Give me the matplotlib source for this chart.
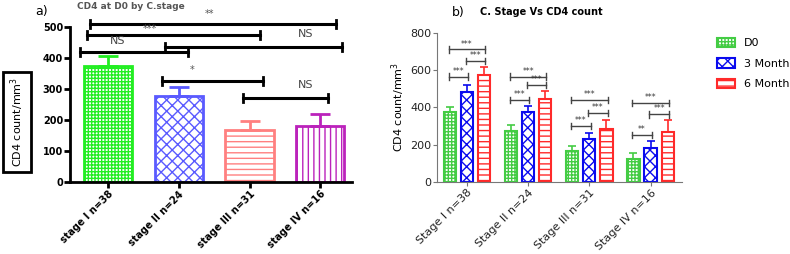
import numpy as np
import matplotlib
matplotlib.use("Agg")
from matplotlib import pyplot as plt

# panel a) CD4 at D0 by clinical stage
stages_a = ["stage I n=38", "stage II n=24", "stage III n=31", "stage IV n=16"]
cd4_d0 = [375, 277, 167, 182]
err_d0 = [30, 31, 30, 38]
colors_a = ["#22ee22", "#5a5aff", "#ff8080", "#bb22bb"]
hatches_a = ["+++++", "xxx", "---", "|||"]
# (x1, x2, y, label, label_x, label_y)
sig_a = [
    (-0.25, 3.22, 510, "**", 1.44, 525),
    (-0.30, 2.15, 474, "***", 0.59, 478),
    (-0.40, 1.13, 419, "NS", 0.13, 440),
    (0.81, 3.31, 435, "NS", 2.79, 460),
    (0.76, 2.19, 326, "*", 1.19, 345),
    (1.91, 3.11, 271, "NS", 2.79, 296),
]

# panel b) CD4 over follow-up
stages_b = ["Stage I n=38", "Stage II n=24", "Stage III n=31", "Stage IV n=16"]
visits = ["D0", "3 Month", "6 Month"]
cd4_b = [[375, 272, 165, 122],
         [485, 375, 228, 183],
         [575, 445, 287, 270]]
err_b = [[30, 33, 30, 33],
         [35, 35, 37, 35],
         [40, 42, 43, 60]]
colors_b = ["#44cc44", "#0a0aee", "#ff2a2a"]
hatches_b = ["+++++", "xxx", "---"]
# (group, bar1, bar2, y, label)
sig_b = [
    (0, 0, 2, 711, "***"), (0, 1, 2, 649, "***"), (0, 0, 1, 565, "***"),
    (1, 0, 2, 565, "***"), (1, 1, 2, 520, "***"), (1, 0, 1, 440, "***"),
    (2, 0, 2, 440, "***"), (2, 1, 2, 370, "***"), (2, 0, 1, 300, "***"),
    (3, 0, 2, 424, "***"), (3, 1, 2, 364, "***"), (3, 0, 1, 252, "**"),
]

plt.rcParams['hatch.linewidth'] = 1.0
fig = plt.figure(figsize=(7.9, 2.54), dpi=100)

# ---------------- panel a ----------------
ax1 = fig.add_axes([0.0886, 0.2835, 0.357, 0.61])
x = np.arange(len(stages_a))
for i in range(len(stages_a)):
    ax1.bar(x[i], cd4_d0[i], width=0.68, facecolor="white", edgecolor=colors_a[i],
            hatch=hatches_a[i], linewidth=2)
    ax1.errorbar(x[i], cd4_d0[i], yerr=[[0], [err_d0[i]]], color=colors_a[i],
                 capsize=7, capthick=2, elinewidth=2)
for x1, x2, y, lab, lx, ly in sig_a:
    ax1.plot([x1, x2], [y, y], color="black", lw=2.2, clip_on=False)
    ax1.plot([x1, x1], [y - 12, y + 12], color="black", lw=2, clip_on=False)
    ax1.plot([x2, x2], [y - 12, y + 12], color="black", lw=2, clip_on=False)
    ax1.text(lx, ly, lab, ha="center", va="bottom", fontsize=8 if lab == "NS" else 7,
             color="#444444" if lab == "NS" else "#555555", clip_on=False)
ax1.set_xlim(-0.54, 3.45)
ax1.set_ylim(0, 500)
ax1.set_yticks([0, 100, 200, 300, 400, 500])
ax1.set_xticks(x)
ax1.set_xticklabels(stages_a, rotation=45, ha="right", rotation_mode="anchor",
                    fontsize=7, fontweight="bold")
for lbl in ax1.get_yticklabels():
    lbl.set_fontweight("bold")
    lbl.set_fontsize(7)
ax1.spines["top"].set_visible(False)
ax1.spines["right"].set_visible(False)
ax1.spines["left"].set_linewidth(2)
ax1.spines["bottom"].set_linewidth(2)
ax1.tick_params(width=2, length=4, pad=1)

fig.text(0.0215, 0.52, "CD4 count/mm$^3$", rotation=90, ha="center", va="center",
         fontsize=8, bbox=dict(boxstyle="square,pad=0.45", fc="white", ec="black", lw=2))
fig.text(0.045, 0.955, "a)", fontsize=9, ha="left", va="center")
fig.text(0.097, 0.975, "CD4 at D0 by C.stage", fontsize=6.5, fontweight="bold",
         color="#555555", ha="left", va="center")

# ---------------- panel b ----------------
ax2 = fig.add_axes([0.553, 0.2835, 0.310, 0.587])
xb = np.arange(len(stages_b))
offsets = [-0.28, 0.0, 0.28]
for j in range(len(visits)):
    ax2.bar(xb + offsets[j], cd4_b[j], width=0.2, facecolor="white",
            edgecolor=colors_b[j], hatch=hatches_b[j], linewidth=1.5, label=visits[j])
    ax2.errorbar(xb + offsets[j], cd4_b[j], yerr=[[0] * 4, err_b[j]], fmt="none",
                 ecolor=colors_b[j], capsize=3, capthick=1.2, elinewidth=1.2)
for g, b1, b2, y, lab in sig_b:
    xa = g + offsets[b1] - 0.02
    xc = g + offsets[b2] + 0.02
    ax2.plot([xa, xc], [y, y], color="#444444", lw=1)
    ax2.plot([xa, xa], [y - 18, y + 18], color="#444444", lw=1)
    ax2.plot([xc, xc], [y - 18, y + 18], color="#444444", lw=1)
    ax2.text((xa + xc) / 2, y + 4, lab, ha="center", va="bottom", fontsize=5.5, color="#333333")
ax2.set_xlim(-0.49, 3.51)
ax2.set_ylim(0, 800)
ax2.set_yticks([0, 200, 400, 600, 800])
ax2.set_xticks(xb)
ax2.set_xticklabels(stages_b, rotation=45, ha="right", rotation_mode="anchor", fontsize=8)
ax2.tick_params(labelsize=8, color="#777777", labelcolor="#222222", length=3, pad=1)
ax2.spines["top"].set_visible(False)
ax2.spines["right"].set_visible(False)
ax2.spines["left"].set_color("#777777")
ax2.spines["bottom"].set_color("#777777")
ax2.set_ylabel("CD4 count/mm$^3$", fontsize=8, labelpad=2)
ax2.legend(loc="upper left", bbox_to_anchor=(0.895, 0.89), bbox_transform=fig.transFigure,
           frameon=False, fontsize=8, handlelength=1.6, handleheight=0.9, labelspacing=0.9)

fig.text(0.572, 0.952, "b)", fontsize=9, ha="left", va="center")
fig.text(0.607, 0.952, "C. Stage Vs CD4 count", fontsize=7, fontweight="bold",
         ha="left", va="center")

fig.savefig("out.png", dpi=100)
